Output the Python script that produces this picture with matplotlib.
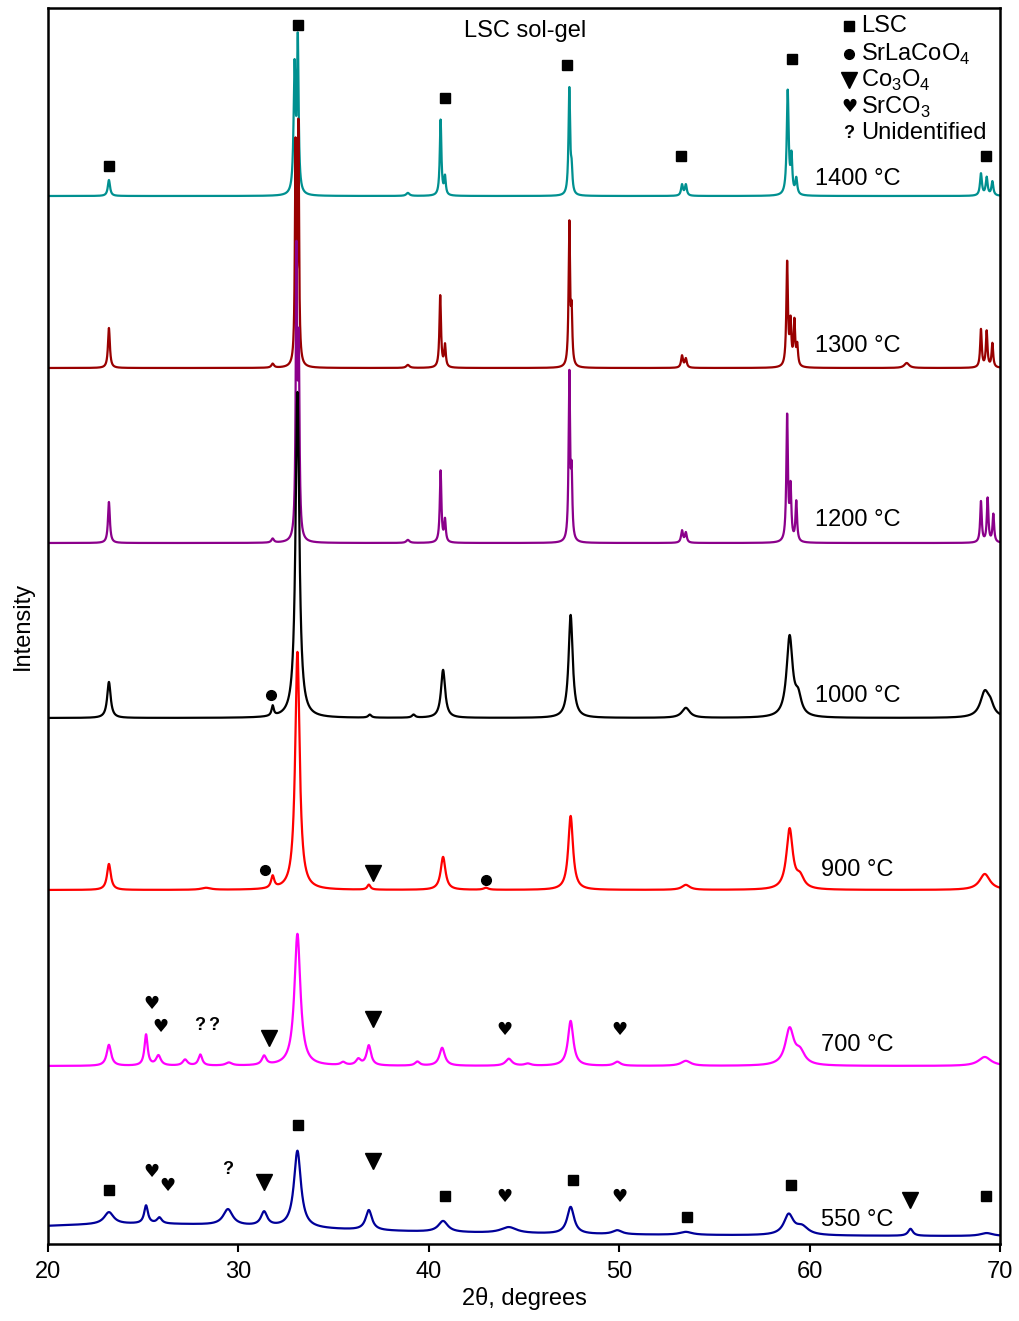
import numpy as np
import matplotlib
matplotlib.use("Agg")
import matplotlib.pyplot as plt

plt.rcParams['font.family'] = ['Liberation Sans', 'DejaVu Sans']
plt.rcParams['mathtext.fontset'] = 'custom'
plt.rcParams['mathtext.rm'] = 'Liberation Sans'

# XRD patterns, LSC sol-gel, one list of peaks per calcination temperature
# each peak: (2theta, height above baseline, half width)
temps = ['1400 °C', '1300 °C', '1200 °C', '1000 °C', '900 °C', '700 °C', '550 °C']
colors = ['#009090', '#990000', '#8B008B', '#000000', '#FF0000', '#FF00FF', '#000099']
offsets = [1048, 876, 701, 526, 354, 178, 7]

peaks_1400 = [(23.2, 16, 0.07), (32.95, 125, 0.06), (33.12, 150, 0.05), (38.9, 3, 0.1),
              (40.62, 76, 0.05), (40.85, 18, 0.05), (47.38, 106, 0.05), (47.5, 22, 0.05),
              (53.3, 11, 0.06), (53.5, 11, 0.06), (58.85, 104, 0.06), (59.05, 36, 0.05),
              (59.3, 16, 0.06), (69.0, 22, 0.06), (69.3, 18, 0.06), (69.6, 14, 0.06)]
peaks_1300 = [(23.2, 40, 0.06), (31.8, 4, 0.08), (33.0, 215, 0.04), (33.15, 235, 0.04),
              (38.9, 3, 0.1), (40.6, 72, 0.05), (40.85, 22, 0.05), (47.38, 142, 0.045),
              (47.5, 50, 0.045), (53.3, 12, 0.06), (53.5, 9, 0.06), (58.82, 104, 0.05),
              (59.0, 42, 0.05), (59.2, 44, 0.05), (59.35, 20, 0.05), (65.1, 5, 0.15),
              (69.0, 38, 0.05), (69.3, 36, 0.05), (69.6, 24, 0.05)]
peaks_1200 = [(23.2, 41, 0.06), (31.8, 4, 0.08), (33.05, 280, 0.045), (33.17, 180, 0.045),
              (38.9, 3, 0.1), (40.62, 72, 0.05), (40.85, 22, 0.05), (47.38, 166, 0.045),
              (47.5, 62, 0.045), (53.3, 12, 0.06), (53.5, 10, 0.06), (58.82, 126, 0.05),
              (59.0, 52, 0.05), (59.3, 40, 0.05), (69.0, 41, 0.05), (69.35, 44, 0.05),
              (69.65, 28, 0.05)]
peaks_1000 = [(23.2, 36, 0.11), (31.8, 10, 0.07), (33.1, 326, 0.12), (36.9, 3, 0.1),
              (39.2, 3, 0.1), (40.75, 48, 0.13), (47.45, 103, 0.13), (53.5, 10, 0.25),
              (58.95, 80, 0.19), (59.4, 18, 0.2), (69.2, 25, 0.28), (69.5, 9, 0.2)]
peaks_900 = [(23.2, 26, 0.12), (28.3, 2, 0.3), (31.8, 12, 0.1), (33.1, 238, 0.14),
             (36.85, 5, 0.1), (40.75, 33, 0.15), (43.0, 2, 0.15), (47.45, 74, 0.15),
             (53.5, 5, 0.25), (58.95, 60, 0.2), (59.5, 11, 0.25), (69.2, 16, 0.33)]
peaks_700 = [(23.2, 21, 0.14), (25.15, 31, 0.1), (25.8, 10, 0.15), (27.2, 6, 0.15),
             (28.0, 11, 0.12), (29.5, 3, 0.2), (31.35, 9, 0.14), (33.1, 132, 0.19),
             (35.5, 3, 0.15), (36.3, 6, 0.15), (36.85, 20, 0.14), (39.4, 4, 0.15),
             (40.7, 18, 0.17), (44.2, 7, 0.2), (45.2, 2, 0.2), (47.45, 45, 0.17),
             (49.9, 4, 0.2), (53.5, 5, 0.3), (58.95, 36, 0.27), (59.5, 12, 0.3),
             (69.2, 9, 0.4)]
peaks_550 = [(25.0, 13, 12.0), (23.2, 12, 0.3), (25.15, 18, 0.12), (25.85, 6, 0.15),
             (29.45, 16, 0.3), (31.35, 14, 0.2), (33.1, 77, 0.22), (36.85, 20, 0.2),
             (40.75, 11, 0.3), (44.2, 6, 0.5), (47.45, 27, 0.22), (49.9, 4, 0.3),
             (53.5, 3, 0.4), (58.9, 20, 0.3), (59.6, 8, 0.4), (65.3, 7, 0.15),
             (69.3, 3, 0.4)]
patterns = [peaks_1400, peaks_1300, peaks_1200, peaks_1000, peaks_900, peaks_700, peaks_550]

# phase marks (2theta, intensity)
lsc_x = [23.2, 33.13, 40.85, 47.26, 53.25, 59.08, 69.27, 23.2, 33.13, 40.85, 47.57, 53.56, 59.02, 69.27]
lsc_y = [1078, 1219, 1146, 1179, 1088, 1185, 1088, 54, 119, 48, 64, 27, 59, 48]
srlacoo4_x = [31.7, 31.4, 43.0]
srlacoo4_y = [549, 374, 364]
co3o4_x = [37.07, 31.6, 37.07, 31.35, 37.07, 65.27]
co3o4_y = [371, 206, 225, 62, 83, 44]
srco3_x = [25.46, 25.93, 44.0, 50.0, 25.46, 26.25, 44.0, 50.0]
srco3_y = [240, 217, 214, 214, 72, 58, 47, 47]
unknown_x = [27.98, 28.72, 29.45]
unknown_y = [219, 219, 74]

label_x = [60.3, 60.3, 60.3, 60.3, 60.6, 60.6, 60.6]
label_y = [1065, 898, 724, 548, 374, 199, 24]

fig = plt.figure(figsize=(10.19, 13.21), dpi=100)
ax = fig.add_axes([48 / 1019, 77 / 1321, 952 / 1019, 1236 / 1321])

fs = 17

tt = np.linspace(20, 70, 6001)
for peaks, off, col in zip(patterns, offsets, colors):
    y = np.full_like(tt, off, dtype=float)
    for c, h, w in peaks:
        y += h / (1 + ((tt - c) / w) ** 2)
    ax.plot(tt, y, color=col, lw=1.6)

for name, lx, ly in zip(temps, label_x, label_y):
    ax.text(lx, ly, name, fontsize=fs, va='center', ha='left')

ax.plot(lsc_x, lsc_y, 's', color='black', ms=7.5, ls='none')
ax.plot(srlacoo4_x, srlacoo4_y, 'o', color='black', ms=7, ls='none')
ax.plot(co3o4_x, co3o4_y, 'v', color='black', ms=11, ls='none')
for x, y in zip(srco3_x, srco3_y):
    ax.text(x, y, '\u2665', fontsize=13, ha='center', va='center', family=['DejaVu Sans'])
for x, y in zip(unknown_x, unknown_y):
    ax.text(x, y, '?', fontsize=13, ha='center', va='center', fontweight='bold')

# legend drawn by hand
ax.plot([62.07], [1218], 's', color='black', ms=7.5)
ax.plot([62.07], [1190], 'o', color='black', ms=7)
ax.plot([62.07], [1164], 'v', color='black', ms=11)
ax.text(62.07, 1137, '\u2665', fontsize=13, ha='center', va='center', family=['DejaVu Sans'])
ax.text(62.07, 1111, '?', fontsize=13, ha='center', va='center', fontweight='bold')
legend_names = ['LSC', 'SrLaCoO$_\\mathregular{4}$', 'Co$_\\mathregular{3}$O$_\\mathregular{4}$',
                'SrCO$_\\mathregular{3}$', 'Unidentified']
for name, y in zip(legend_names, [1218, 1190, 1164, 1137, 1111]):
    ax.text(62.7, y, name, fontsize=fs, va='center', ha='left')

ax.text(45.05, 1213, 'LSC sol-gel', fontsize=fs, ha='center', va='center')

ax.set_xlim(20, 70)
ax.set_ylim(0, 1236)
ax.set_xticks([20, 30, 40, 50, 60, 70])
ax.set_yticks([])
ax.tick_params(axis='x', direction='out', length=6, width=1.5, labelsize=fs, pad=6)
for s in ax.spines.values():
    s.set_linewidth(1.8)
ax.set_xlabel('2\u03b8, degrees', fontsize=fs, labelpad=3)
ax.set_ylabel('Intensity', fontsize=fs, labelpad=10)

fig.savefig('out.png', dpi=100)
